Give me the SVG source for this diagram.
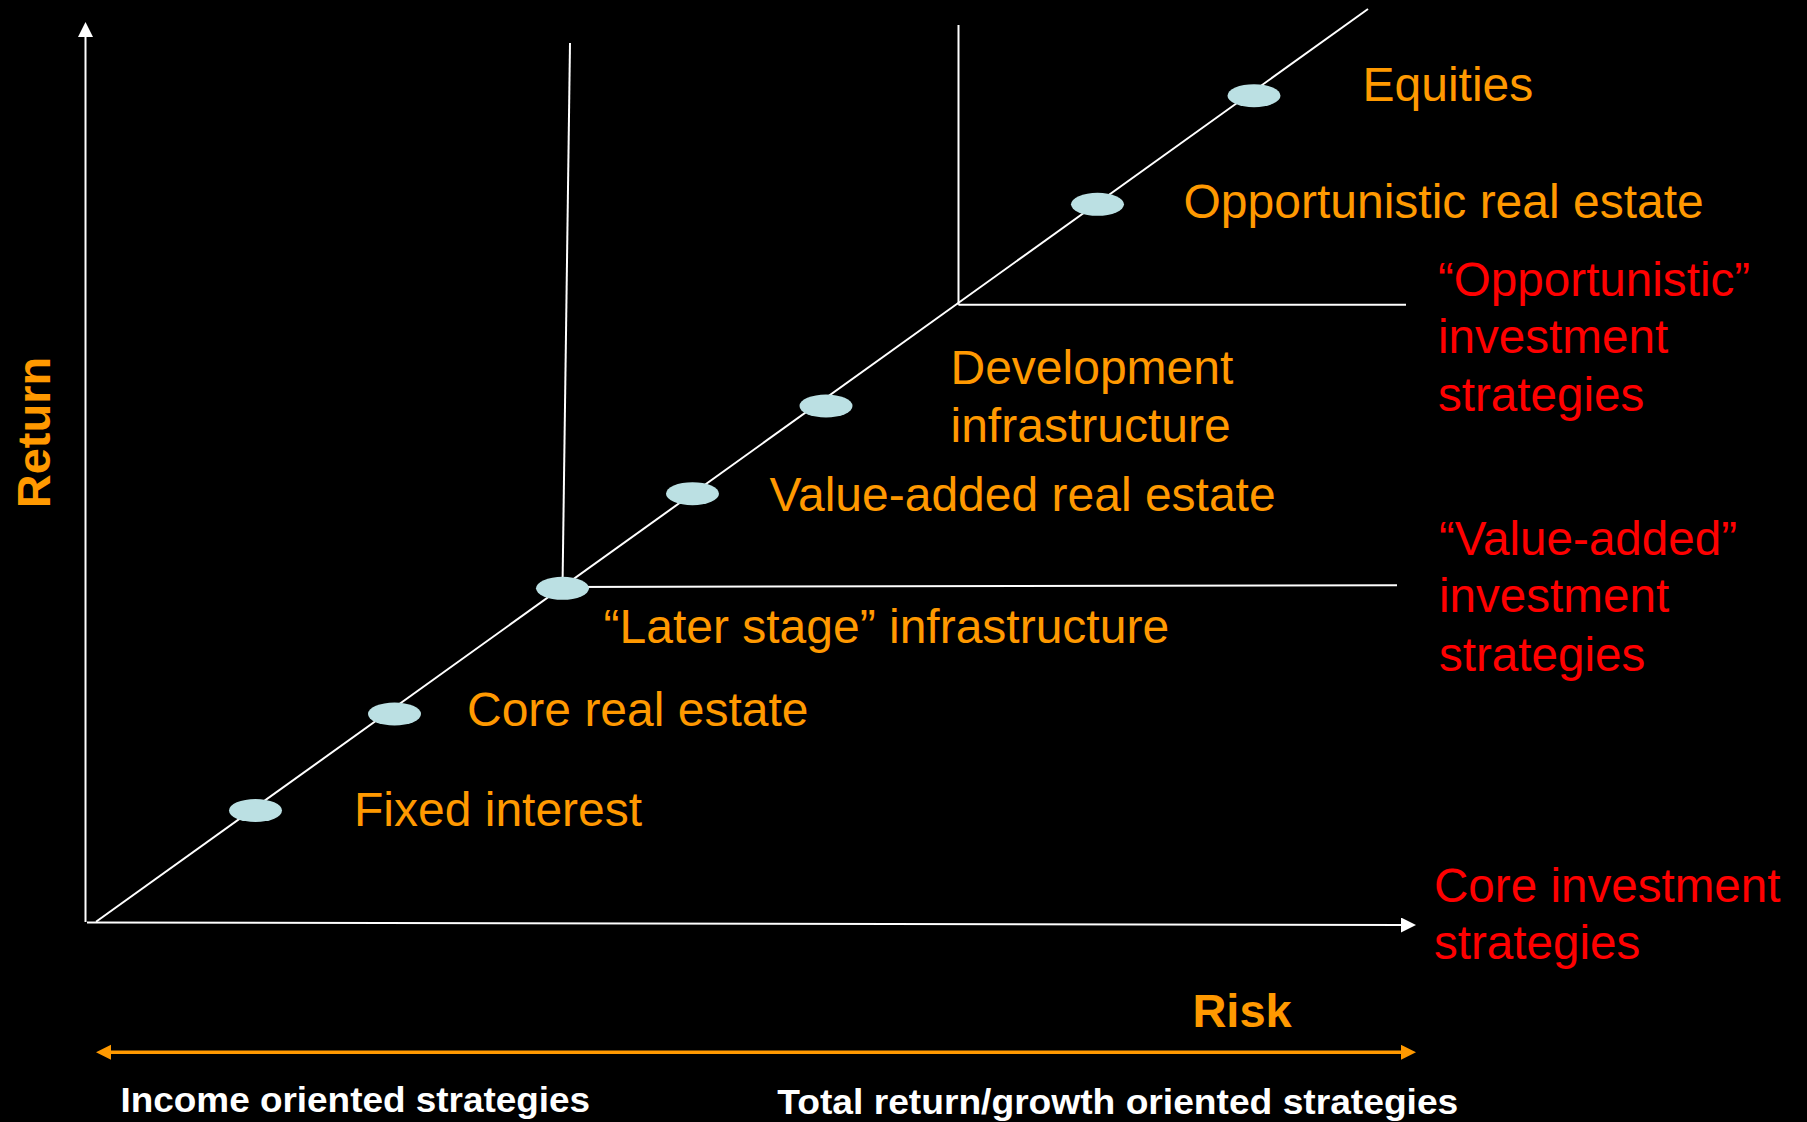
<svg xmlns="http://www.w3.org/2000/svg" width="1807" height="1122" viewBox="0 0 1807 1122">
  <style>
    .ax { stroke: #FFFFFF; stroke-width: 2; fill: none; }
    .band { stroke: #FF9900; stroke-width: 3.5; fill: none; }
    .dot { fill: #BBE0E3; stroke: none; }
    .lbl { font-family: "Liberation Sans", Arial, sans-serif; font-size: 48px; fill: #FF9900; }
    .zone { font-family: "Liberation Sans", Arial, sans-serif; font-size: 47.6px; fill: #FF0000; }
    .axis-title { font-family: "Liberation Sans", Arial, sans-serif; font-size: 47px; font-weight: bold; fill: #FF9900; }
    .foot { font-family: "Liberation Sans", Arial, sans-serif; font-size: 35px; font-weight: bold; fill: #FFFFFF; }
  </style>
  <defs>
    <marker id="headWhite" markerUnits="userSpaceOnUse" markerWidth="16" markerHeight="16" refX="0" refY="7.5" orient="auto">
      <path d="M0,0 L15,7.5 L0,15 z" fill="#FFFFFF"/>
    </marker>
    <marker id="headOrange" markerUnits="userSpaceOnUse" markerWidth="16" markerHeight="16" refX="0" refY="7.5" orient="auto-start-reverse">
      <path d="M0,0 L15,7.5 L0,15 z" fill="#FF9900"/>
    </marker>
  </defs>

  <rect x="0" y="0" width="1807" height="1122" fill="#000000"/>

  <!-- axes, risk/return line and strategy boundaries -->
  <g id="connectors">
    <line id="y-axis" class="ax" x1="85.5" y1="922" x2="85.5" y2="37" marker-end="url(#headWhite)"/>
    <line id="x-axis" class="ax" x1="87" y1="922.5" x2="1401" y2="925" marker-end="url(#headWhite)"/>
    <line id="risk-return-line" class="ax" x1="96" y1="921.7" x2="1368" y2="9"/>
    <line id="value-added-vertical" class="ax" x1="570" y1="43" x2="562.5" y2="588"/>
    <line id="value-added-horizontal" class="ax" x1="562.5" y1="587" x2="1397" y2="585.3"/>
    <line id="opportunistic-vertical" class="ax" x1="958.5" y1="25" x2="958.5" y2="304.7"/>
    <line id="opportunistic-horizontal" class="ax" x1="958.5" y1="304.7" x2="1406" y2="304.7"/>
    <line id="strategy-band" class="band" x1="111" y1="1052.3" x2="1401" y2="1052.3" marker-start="url(#headOrange)" marker-end="url(#headOrange)"/>
  </g>

  <!-- asset classes along the line -->
  <g id="fixed-interest">
    <ellipse class="dot" cx="255.5" cy="810.5" rx="26.5" ry="11.5"/>
    <text class="lbl" x="354" y="825.5">Fixed interest</text>
  </g>
  <g id="core-real-estate">
    <ellipse class="dot" cx="394.5" cy="714" rx="26.5" ry="11.5"/>
    <text class="lbl" x="467" y="725.5">Core real estate</text>
  </g>
  <g id="later-stage-infrastructure">
    <ellipse class="dot" cx="562.5" cy="588.3" rx="26.5" ry="11.5"/>
    <text class="lbl" x="603.5" y="642.5">“Later stage” infrastructure</text>
  </g>
  <g id="value-added-real-estate">
    <ellipse class="dot" cx="692.5" cy="493.7" rx="26.5" ry="11.5"/>
    <text class="lbl" x="769.5" y="510.5">Value-added real estate</text>
  </g>
  <g id="development-infrastructure">
    <ellipse class="dot" cx="826" cy="406" rx="26.5" ry="11.5"/>
    <text class="lbl" x="950.5" y="384">Development</text>
    <text class="lbl" x="950.5" y="441.5">infrastructure</text>
  </g>
  <g id="opportunistic-real-estate">
    <ellipse class="dot" cx="1097.5" cy="204.3" rx="26.5" ry="11.5"/>
    <text class="lbl" x="1183.5" y="217.5">Opportunistic real estate</text>
  </g>
  <g id="equities">
    <ellipse class="dot" cx="1254" cy="95.7" rx="26.5" ry="11.5"/>
    <text class="lbl" x="1362.5" y="100.5">Equities</text>
  </g>

  <!-- strategy zones -->
  <g id="zone-opportunistic">
    <text class="zone" x="1438" y="295.5">“Opportunistic”</text>
    <text class="zone" x="1438" y="353">investment</text>
    <text class="zone" x="1438" y="410.5">strategies</text>
  </g>
  <g id="zone-value-added">
    <text class="zone" x="1439" y="554.5">“Value-added”</text>
    <text class="zone" x="1439" y="612">investment</text>
    <text class="zone" x="1439" y="670.5">strategies</text>
  </g>
  <g id="zone-core">
    <text class="zone" x="1434" y="902">Core investment</text>
    <text class="zone" x="1434" y="958.5">strategies</text>
  </g>

  <!-- axis titles -->
  <g id="axis-titles">
    <text class="axis-title" transform="translate(49.8,508.3) rotate(-90)">Return</text>
    <text class="axis-title" x="1192.4" y="1026.7">Risk</text>
  </g>

  <!-- band captions -->
  <g id="band-captions">
    <text class="foot" x="120.5" y="1112" textLength="469.6" lengthAdjust="spacingAndGlyphs">Income oriented strategies</text>
    <text class="foot" x="777.3" y="1113.5" textLength="681" lengthAdjust="spacingAndGlyphs">Total return/growth oriented strategies</text>
  </g>
</svg>
